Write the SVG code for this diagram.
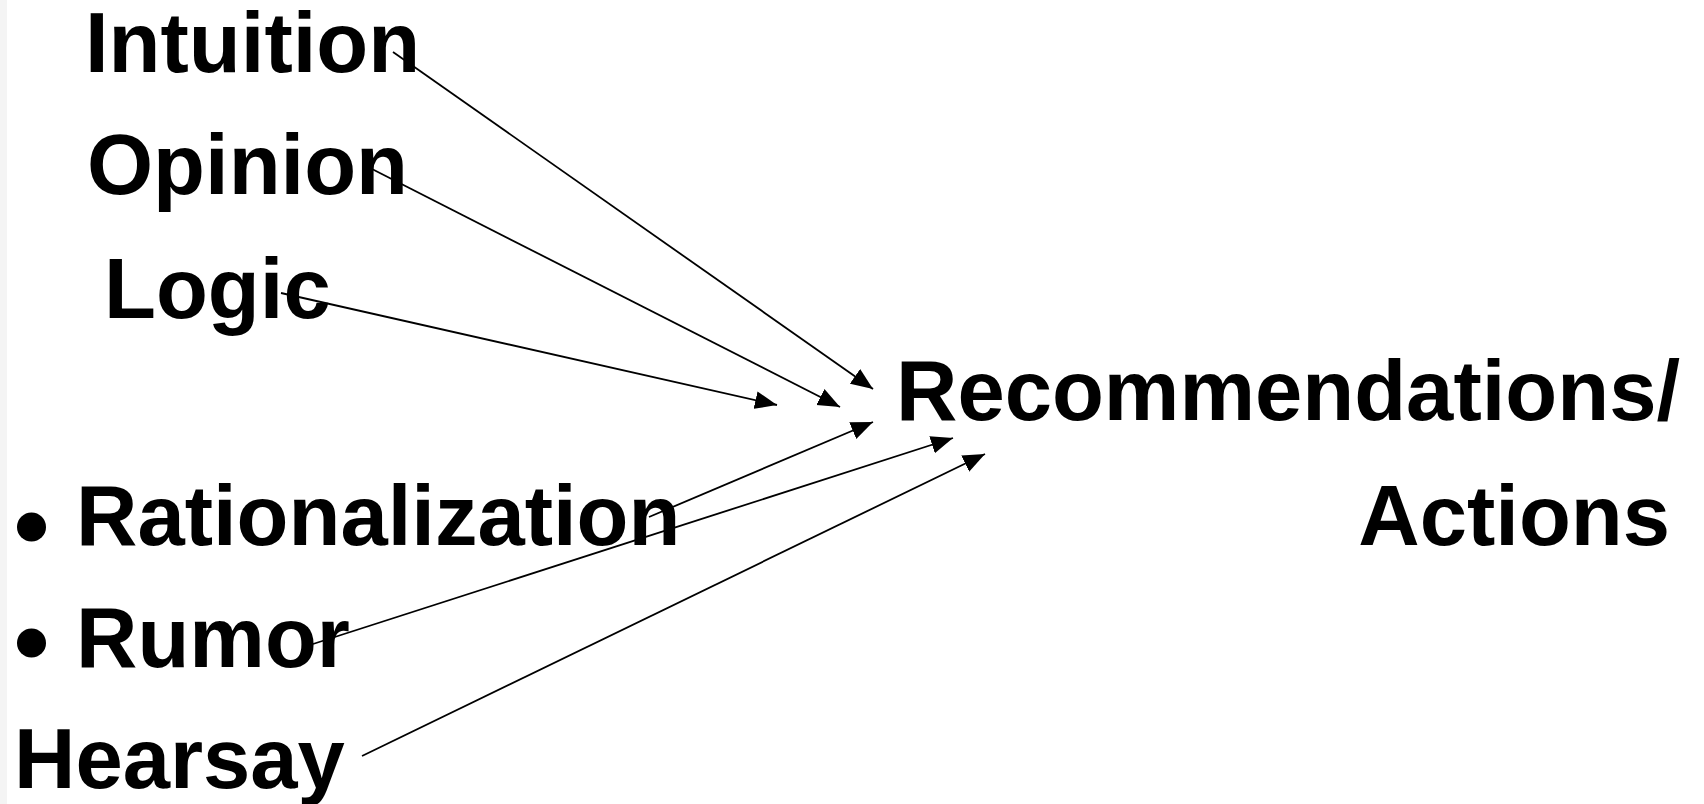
<svg xmlns="http://www.w3.org/2000/svg" width="1704" height="804" viewBox="0 0 1704 804">
<style>
.t{font-family:"Liberation Sans",Arial,sans-serif;font-weight:bold;font-size:85px;fill:#000}
.c{stroke:#000;stroke-width:1.8;fill:none;marker-end:url(#ah)}
</style>
<defs>
<marker id="ah" markerUnits="userSpaceOnUse" markerWidth="23" markerHeight="19" refX="22" refY="9" orient="auto" viewBox="0 0 23 18">
<path d="M0,0 L22,9 L0,18 Z" fill="#000"/>
</marker>
</defs>
<rect width="1704" height="804" fill="#fff"/>
<rect width="7" height="804" fill="#f4f4f4"/>
<g id="intuition"><text class="t" x="85" y="72">Intuition</text></g>
<g id="opinion"><text class="t" x="87" y="194">Opinion</text></g>
<g id="logic"><text class="t" x="104" y="318">Logic</text></g>
<g id="rationalization"><circle cx="31.5" cy="527" r="14.5"/><text class="t" x="76" y="545">Rationalization</text></g>
<g id="rumor"><circle cx="31.5" cy="643" r="14.5"/><text class="t" x="76" y="667">Rumor</text></g>
<g id="hearsay"><text class="t" x="14" y="788">Hearsay</text></g>
<g id="recommendations"><text class="t" x="896" y="420">Recommendations/</text><text class="t" x="1670" y="545" text-anchor="end">Actions</text></g>
<g id="connectors">
<line class="c" x1="393" y1="52" x2="873" y2="389"/>
<line class="c" x1="372" y1="169" x2="840" y2="407"/>
<line class="c" x1="281" y1="293" x2="777" y2="405"/>
<line class="c" x1="649" y1="517" x2="873" y2="422"/>
<line class="c" x1="313" y1="644" x2="953" y2="438"/>
<line class="c" x1="362" y1="756" x2="985" y2="454"/>
</g>
</svg>
